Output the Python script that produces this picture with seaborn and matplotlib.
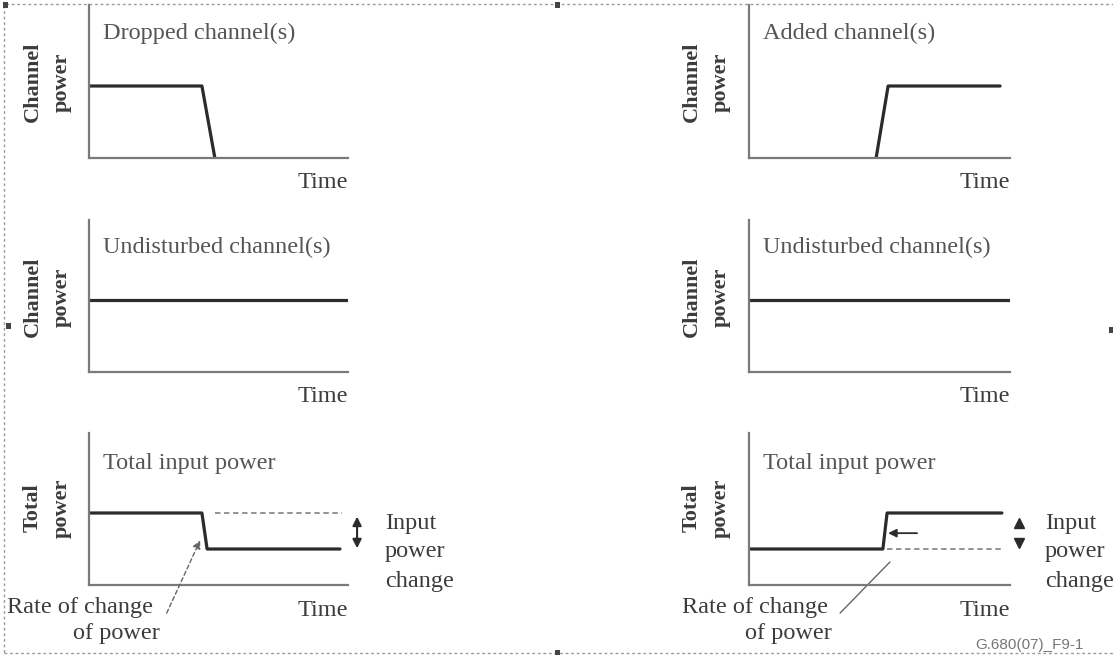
import matplotlib
matplotlib.use("Agg")
import matplotlib.pyplot as plt
import seaborn as sns
from matplotlib.patches import Rectangle

# ---------------- data ----------------
dropped_t = [0.0, 4.36, 4.86]
dropped_p = [1.0, 1.0, 0.0]

added_t = [4.87, 5.33, 9.62]
added_p = [0.0, 1.0, 1.0]

undist_t = [0.0, 10.0]
undist_p = [1.0, 1.0]

total_drop_t = [0.0, 4.36, 4.56, 9.69]
total_drop_p = [1.0, 1.0, 0.5, 0.5]
total_drop_ref_t = [4.86, 9.77]
total_drop_ref_p = [1.0, 1.0]

total_add_t = [0.0, 5.13, 5.29, 9.69]
total_add_p = [0.5, 0.5, 1.0, 1.0]
total_add_ref_t = [5.29, 9.69]
total_add_ref_p = [0.5, 0.5]

titles = [["Dropped channel(s)", "Added channel(s)"],
          ["Undisturbed channel(s)", "Undisturbed channel(s)"],
          ["Total input power", "Total input power"]]
ylabels = [("Channel", "power"), ("Channel", "power"), ("Total", "power")]
xlabel = "Time"

# ---------------- style ----------------
sns.set_style("white")
plt.rcParams['font.family'] = ['Liberation Serif', 'DejaVu Serif']

W, H = 1113, 657
fig = plt.figure(figsize=(W / 100, H / 100), dpi=100)

def fx(px):
    return px / W

def fy(py):
    return 1 - py / H

PXU = 72.0  # pixels per power unit
LINE_C = "#2b2b2b"
AX_C = "#7a7a7a"
TXT_C = "#3c3c3c"
TITLE_C = "#555555"

# axes rectangles in pixels: (left, top, right, bottom)
rects = [[(89, 5, 348, 158), (749, 5, 1010, 158)],
         [(89, 220, 348, 372), (749, 220, 1010, 372)],
         [(89, 433, 348, 585), (749, 433, 1010, 585)]]

axes = [[None, None], [None, None], [None, None]]
for r in range(3):
    for c in range(2):
        l, t, rr, b = rects[r][c]
        ax = fig.add_axes([fx(l), fy(b), fx(rr) - fx(l), fy(t) - fy(b)])
        ax.set_xlim(0, 10)
        ax.set_ylim(0, (b - t) / PXU)
        ax.set_xticks([])
        ax.set_yticks([])
        for s in ["top", "right"]:
            ax.spines[s].set_visible(False)
        for s in ["left", "bottom"]:
            ax.spines[s].set_color(AX_C)
            ax.spines[s].set_linewidth(1.6)
        ax.patch.set_alpha(0)
        axes[r][c] = ax

lw = 2.3
sns.lineplot(x=dropped_t, y=dropped_p, ax=axes[0][0], color=LINE_C, linewidth=lw, sort=False, estimator=None)
sns.lineplot(x=added_t, y=added_p, ax=axes[0][1], color=LINE_C, linewidth=lw, sort=False, estimator=None)
sns.lineplot(x=undist_t, y=undist_p, ax=axes[1][0], color=LINE_C, linewidth=lw, sort=False, estimator=None)
sns.lineplot(x=undist_t, y=undist_p, ax=axes[1][1], color=LINE_C, linewidth=lw, sort=False, estimator=None)
sns.lineplot(x=total_drop_t, y=total_drop_p, ax=axes[2][0], color=LINE_C, linewidth=lw, sort=False, estimator=None)
sns.lineplot(x=total_drop_ref_t, y=total_drop_ref_p, ax=axes[2][0], color="#8a8a8a", linewidth=1.3,
             linestyle=(0, (3, 2)), sort=False, estimator=None)
sns.lineplot(x=total_add_t, y=total_add_p, ax=axes[2][1], color=LINE_C, linewidth=lw, sort=False, estimator=None)
sns.lineplot(x=total_add_ref_t, y=total_add_ref_p, ax=axes[2][1], color="#8a8a8a", linewidth=1.3,
             linestyle=(0, (3, 2)), sort=False, estimator=None)

FS = 17.5

# titles, Time labels and y labels
title_y = [33, 247, 463]
time_y = [183, 397, 610]
ylab_y = [82, 297, 508]
for r in range(3):
    for c in range(2):
        l, t, rr, b = rects[r][c]
        fig.text(fx(l + 14), fy(title_y[r]), titles[r][c], fontsize=FS, color=TITLE_C,
                 ha="left", va="center")
        fig.text(fx(rr), fy(time_y[r]), xlabel, fontsize=FS, color=TXT_C, ha="right", va="center")
        x1 = 33 if c == 0 else 692
        fig.text(fx(x1), fy(ylab_y[r]), ylabels[r][0], fontsize=16, fontweight="bold",
                 color=TXT_C, rotation=90, ha="center", va="center")
        fig.text(fx(x1 + 29), fy(ylab_y[r]), ylabels[r][1], fontsize=16, fontweight="bold",
                 color=TXT_C, rotation=90, ha="center", va="center")

# ---- bottom-left annotations ----
axL = axes[2][0]
axL.annotate("", xy=(10.35, 0.95), xytext=(10.35, 0.51), xycoords="data",
             arrowprops=dict(arrowstyle="<|-|>", color=LINE_C, lw=1.5, mutation_scale=13,
                             shrinkA=0, shrinkB=0), annotation_clip=False)
axL.annotate("", xy=(4.29, 0.62), xytext=(3.0, -0.39), xycoords="data",
             arrowprops=dict(arrowstyle="-|>", color="#666666", lw=1.0, linestyle=(0, (3, 2)),
                             mutation_scale=12, shrinkA=0, shrinkB=0), annotation_clip=False)

# ---- bottom-right annotations ----
axR = axes[2][1]
axR.annotate("", xy=(5.33, 0.72), xytext=(6.44, 0.72), xycoords="data",
             arrowprops=dict(arrowstyle="-|>", color=LINE_C, lw=1.3, mutation_scale=12,
                             shrinkA=0, shrinkB=0), annotation_clip=False)
axR.plot([10.34], [0.86], marker="^", color=LINE_C, markersize=6.5, clip_on=False)
axR.plot([10.34], [0.58], marker="v", color=LINE_C, markersize=6.5, clip_on=False)
axR.plot([3.49, 5.40], [-0.39, 0.32], color="#666666", lw=1.0, clip_on=False)

# side texts
for xl in (385, 1045):
    for i, w in enumerate(["Input", "power", "change"]):
        fig.text(fx(xl), fy(523 + 29 * i), w, fontsize=FS, color=TXT_C, ha="left", va="center")

fig.text(fx(7), fy(607), "Rate of change", fontsize=FS, color=TXT_C, ha="left", va="center")
fig.text(fx(160), fy(634), "of power", fontsize=FS, color=TXT_C, ha="right", va="center")
fig.text(fx(682), fy(607), "Rate of change", fontsize=FS, color=TXT_C, ha="left", va="center")
fig.text(fx(832), fy(634), "of power", fontsize=FS, color=TXT_C, ha="right", va="center")

fig.text(fx(975), fy(645), "G.680(07)_F9-1", fontsize=11, color="#777777",
         family=["Liberation Sans", "DejaVu Sans"], ha="left", va="center")

# dotted frame and handles
fig.patches.append(Rectangle((fx(4), fy(653)), fx(1116) - fx(4), fy(4) - fy(653),
                             transform=fig.transFigure, fill=False, edgecolor="#9a9a9a",
                             linewidth=1.0, linestyle=(0, (2, 2))))
for (hx, hy) in [(5, 5), (557, 5), (557, 652), (8, 326), (1111, 330)]:
    fig.patches.append(Rectangle((fx(hx - 2.5), fy(hy + 2.5)), 5 / W, 5 / H,
                                 transform=fig.transFigure, facecolor="#444444",
                                 edgecolor="none"))

fig.savefig("out.png", dpi=100)
